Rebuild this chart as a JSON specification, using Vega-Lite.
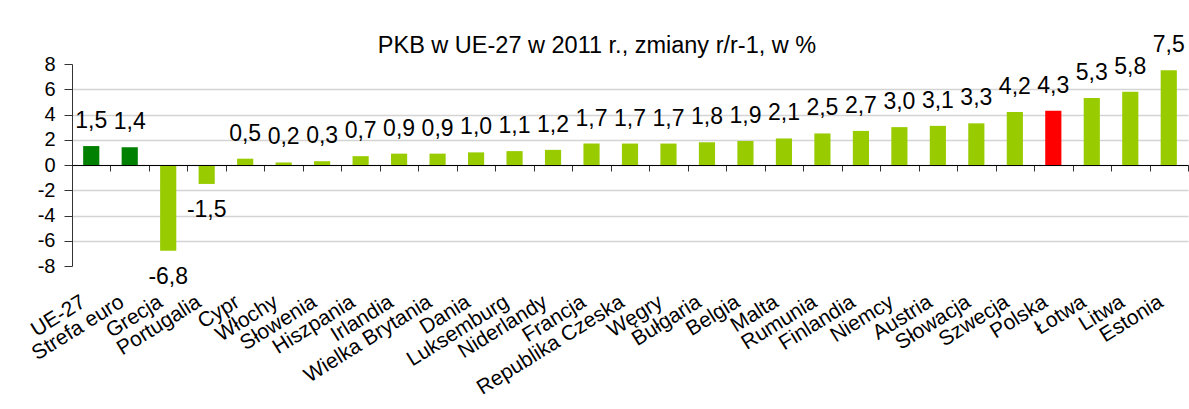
{
  "$schema": "https://vega.github.io/schema/vega-lite/v6.json",
  "width": 1116,
  "height": 202,
  "autosize": {"type": "none"},
  "padding": {"left": 72, "top": 64, "right": 1, "bottom": 143},
  "background": "white",
  "config": {
    "locale": {"number": {"decimal": ",", "thousands": " ", "grouping": [3], "currency": ["", ""], "minus": "-"}},
    "font": "Liberation Sans",
    "view": {"stroke": null}
  },
  "title": {
    "text": "PKB w UE-27 w 2011 r., zmiany r/r-1, w %",
    "fontSize": 23.5,
    "fontWeight": "normal",
    "color": "#000000",
    "font": "Liberation Sans",
    "anchor": "middle",
    "frame": "group",
    "dx": -33,
    "offset": -23
  },
  "data": {
    "values": [
      {"kraj": "UE-27", "wartosc": 1.5, "grupa": "UE"},
      {"kraj": "Strefa euro", "wartosc": 1.4, "grupa": "UE"},
      {"kraj": "Grecja", "wartosc": -6.8, "grupa": "kraj"},
      {"kraj": "Portugalia", "wartosc": -1.5, "grupa": "kraj"},
      {"kraj": "Cypr", "wartosc": 0.5, "grupa": "kraj"},
      {"kraj": "Włochy", "wartosc": 0.2, "grupa": "kraj"},
      {"kraj": "Słowenia", "wartosc": 0.3, "grupa": "kraj"},
      {"kraj": "Hiszpania", "wartosc": 0.7, "grupa": "kraj"},
      {"kraj": "Irlandia", "wartosc": 0.9, "grupa": "kraj"},
      {"kraj": "Wielka Brytania", "wartosc": 0.9, "grupa": "kraj"},
      {"kraj": "Dania", "wartosc": 1.0, "grupa": "kraj"},
      {"kraj": "Luksemburg", "wartosc": 1.1, "grupa": "kraj"},
      {"kraj": "Niderlandy", "wartosc": 1.2, "grupa": "kraj"},
      {"kraj": "Francja", "wartosc": 1.7, "grupa": "kraj"},
      {"kraj": "Republika Czeska", "wartosc": 1.7, "grupa": "kraj"},
      {"kraj": "Węgry", "wartosc": 1.7, "grupa": "kraj"},
      {"kraj": "Bułgaria", "wartosc": 1.8, "grupa": "kraj"},
      {"kraj": "Belgia", "wartosc": 1.9, "grupa": "kraj"},
      {"kraj": "Malta", "wartosc": 2.1, "grupa": "kraj"},
      {"kraj": "Rumunia", "wartosc": 2.5, "grupa": "kraj"},
      {"kraj": "Finlandia", "wartosc": 2.7, "grupa": "kraj"},
      {"kraj": "Niemcy", "wartosc": 3.0, "grupa": "kraj"},
      {"kraj": "Austria", "wartosc": 3.1, "grupa": "kraj"},
      {"kraj": "Słowacja", "wartosc": 3.3, "grupa": "kraj"},
      {"kraj": "Szwecja", "wartosc": 4.2, "grupa": "kraj"},
      {"kraj": "Polska", "wartosc": 4.3, "grupa": "Polska"},
      {"kraj": "Łotwa", "wartosc": 5.3, "grupa": "kraj"},
      {"kraj": "Litwa", "wartosc": 5.8, "grupa": "kraj"},
      {"kraj": "Estonia", "wartosc": 7.5, "grupa": "kraj"}
    ]
  },
  "encoding": {
    "x": {
      "field": "kraj",
      "type": "nominal",
      "sort": null,
      "scale": {"paddingInner": 0, "paddingOuter": 0},
      "axis": {
        "title": null,
        "offset": -101,
        "zindex": 1,
        "domainColor": "#000000",
        "domainWidth": 1.2,
        "tickBand": "extent",
        "tickColor": "#333333",
        "tickSize": 6,
        "labelPadding": 129,
        "labelAngle": -32,
        "labelAlign": "right",
        "labelBaseline": "middle",
        "labelOffset": -8,
        "labelFontSize": 21,
        "labelFont": "Liberation Sans",
        "labelColor": "#000000",
        "labelOverlap": false,
        "labelLimit": 300,
        "grid": false
      }
    },
    "y": {
      "field": "wartosc",
      "type": "quantitative",
      "scale": {"domain": [-8, 8], "nice": false},
      "axis": {
        "title": null,
        "values": [-8, -6, -4, -2, 0, 2, 4, 6, 8],
        "domainColor": "#333333",
        "tickColor": "#333333",
        "tickSize": 8,
        "labelPadding": 9,
        "labelFontSize": 20,
        "labelFont": "Liberation Sans",
        "labelColor": "#000000",
        "grid": true,
        "gridColor": "#d4d4d4",
        "gridWidth": 1.5,
        "gridOpacity": {"condition": {"test": "abs(datum.value) >= 8", "value": 0}, "value": 1}
      }
    }
  },
  "layer": [
    {
      "mark": {"type": "bar", "width": {"band": 0.42}},
      "encoding": {
        "color": {
          "field": "grupa",
          "type": "nominal",
          "scale": {"domain": ["UE", "kraj", "Polska"], "range": ["#008000", "#99cc00", "#ff0000"]},
          "legend": null
        }
      }
    },
    {
      "transform": [{"filter": "datum.wartosc >= 0"}],
      "mark": {"type": "text", "dy": -25, "fontSize": 23, "baseline": "middle", "color": "#000000", "font": "Liberation Sans"},
      "encoding": {"text": {"field": "wartosc", "type": "quantitative", "format": ".1f"}}
    },
    {
      "transform": [{"filter": "datum.wartosc < 0"}],
      "mark": {"type": "text", "dy": 26, "fontSize": 23, "baseline": "middle", "color": "#000000", "font": "Liberation Sans"},
      "encoding": {"text": {"field": "wartosc", "type": "quantitative", "format": ".1f"}}
    }
  ]
}
